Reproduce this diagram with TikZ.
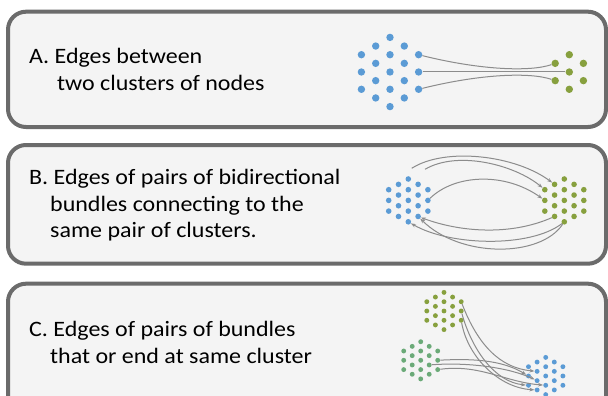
\documentclass[tikz,border=0pt]{standalone}
\usepackage{fontspec}
\setmainfont[FakeStretch=1.09]{Carlito}
\usetikzlibrary{arrows.meta}

\definecolor{panelfill}{HTML}{F4F4F4}
\definecolor{panelline}{HTML}{6B6B6B}
\definecolor{dotblue}{HTML}{5B9BD5}
\definecolor{dotolive}{HTML}{87A03E}
\definecolor{dotgreen}{HTML}{6BAA78}
\definecolor{edgegray}{HTML}{8C8C8C}

% Hexagonal cluster of vertices.
% #1 name, #2 centre x, #3 centre y, #4 column step, #5 row step,
% #6 vertex style, #7 index of the middle column, #8 list column/count
\newcommand\dotcluster[8]{%
  \foreach \col/\cnt in {#8}{%
    \foreach \k in {1,...,\cnt}{%
      \node[#6] (#1-\col-\k) at ({#2+(\col-#7)*#4},{#3+(\k-(\cnt+1)/2)*#5}) {};
    }%
  }%
}

\tikzset{
  panel/.style={draw=panelline, fill=panelfill, line width=4pt, rounded corners=18pt},
  % multi-line captions: the base anchor sits on the last line
  caption/.style={anchor=base west, align=left, inner sep=0pt,
    font=\fontsize{22}{26.7}\selectfont, text=black},
  vA/.style={circle, inner sep=0pt, minimum size=7.4pt, draw=none, fill=#1},
  vB/.style={circle, inner sep=0pt, minimum size=5.6pt, draw=none, fill=#1},
  vC/.style={circle, inner sep=0pt, minimum size=4.9pt, draw=none, fill=#1},
  link/.style={draw=edgegray, line width=1pt},
  linkarrow/.style={link, -{Stealth[length=5pt,width=3.6pt]}},
}

\begin{document}
\begin{tikzpicture}[x=1pt, y=-1pt]
  \useasboundingbox (0,0) rectangle (608,396);
  \clip (0,0) rectangle (608,396);
  \fill[white] (0,0) rectangle (608,396);

  % the three panels
  \path[panel] (8,11.7) rectangle (606,127);
  \path[panel] (8,145) rectangle (606,263.7);
  \path[panel] (8,283.7) rectangle (606,430);

  % captions
  \node[caption] (capA) at (29,90.5) {A. Edges between\\\hspace*{28pt}two clusters of nodes};
  \node[caption] (capB) at (29,237.7) {B. Edges of pairs of bidirectional\\\hspace*{21pt}bundles connecting to the\\\hspace*{21pt}same pair of clusters.};
  \node[caption] (capC) at (29,363.3) {C. Edges of pairs of bundles\\\hspace*{21pt}that or end at same cluster};

  % ---- panel A: two clusters joined by three edges
  \dotcluster{ab}{390}{72}{14.3}{17.3}{vA=dotblue}{2}{0/3,1/4,2/5,3/4,4/3}
  \dotcluster{ag}{569.3}{72}{14.1}{17.3}{vA=dotolive}{1}{0/2,1/3,2/2}
  \draw[link] (ab-4-1) .. controls (480,70) and (530,72) .. (ag-0-1);
  \draw[link] (ab-4-2) -- (ag-1-2);
  \draw[link] (ab-4-3) .. controls (480,74) and (530,72) .. (ag-0-2);

  % ---- panel B: bidirectional bundles
  \dotcluster{bb}{408.3}{200.4}{9.8}{10.7}{vB=dotblue}{2}{0/3,1/4,2/5,3/4,4/3}
  \dotcluster{bg}{564.3}{200.4}{9.75}{10.7}{vB=dotolive}{2}{0/3,1/4,2/5,3/4,4/3}
  \coordinate (bt1) at (411.7,168.3);
  \coordinate (bt2) at (425,169.3);
  \draw[linkarrow] (bt1) .. controls (445,147) and (515,155) .. (bg-1-1);
  \draw[linkarrow] (bt2) .. controls (458,150) and (515,165) .. (bg-0-1);
  \draw[linkarrow] (bb-4-2) .. controls (455,174) and (505,172) .. (bg-0-2);
  \draw[linkarrow] (bg-1-4) .. controls (510,236) and (460,232) .. (bb-3-4);
  \draw[linkarrow] (bg-2-5) .. controls (530,248) and (450,246) .. (bb-2-5);
  \draw[linkarrow] (bg-2-5) .. controls (540,258) and (460,258) .. (bb-3-4);

  % ---- panel C: two bundles ending at the same cluster
  \dotcluster{co}{444}{311}{8.6}{9.3}{vC=dotolive}{2}{0/3,1/4,2/5,3/4,4/3}
  \dotcluster{cg}{420.7}{360.3}{8.5}{9.3}{vC=dotgreen}{2}{0/3,1/4,2/5,3/4,4/3}
  \dotcluster{cb}{545.7}{376}{8.6}{9.3}{vC=dotblue}{2}{0/3,1/4,2/5,3/4,4/3}
  \draw[linkarrow] (co-4-1) .. controls (478,345) and (500,368) .. (cb-1-2);
  \draw[linkarrow] (co-4-2) .. controls (472,350) and (495,382) .. (cb-0-3);
  \draw[linkarrow] (co-4-3) .. controls (468,358) and (500,388) .. (cb-1-4);
  \draw[linkarrow] (cg-4-2) .. controls (480,358) and (505,362) .. (cb-0-2);
  \draw[linkarrow] (cg-3-3) .. controls (470,362) and (510,368) .. (cb-1-3);
  \draw[linkarrow] (cg-4-3) .. controls (480,364) and (505,382) .. (cb-2-4);
\end{tikzpicture}
\end{document}
